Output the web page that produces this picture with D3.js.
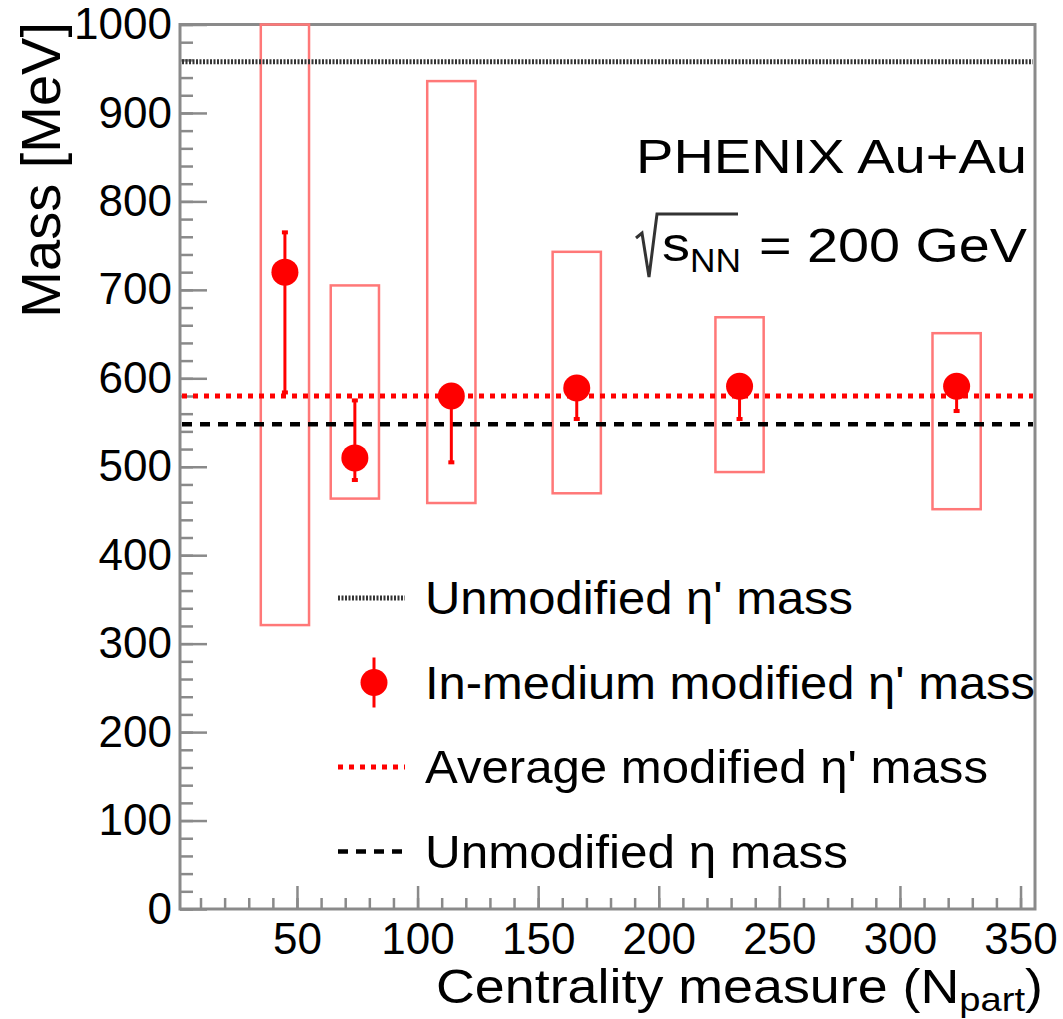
<!DOCTYPE html>
<html>
<head>
<meta charset="utf-8">
<script src="https://cdn.jsdelivr.net/npm/d3@7"></script>
<style>
body { margin: 0; background: #fff; }
text { font-family: "Liberation Sans", Arial, sans-serif; fill: #000; }
</style>
</head>
<body>
<svg id="chart" width="1063" height="1019"></svg>
<script>
/////////////
// Data
/////////////
const npart   = [45, 74, 114, 166, 233.5, 323.5];   // centrality (Npart)
const mass    = [720, 510, 580, 589, 591, 591];     // in-medium eta' mass [MeV]
const statHi  = [765, 575, 592, 600, 602, 600];
const statLo  = [584, 485, 505, 554, 554, 563];
const sysHi   = [1000, 705, 936, 743, 669, 651];
const sysLo   = [321, 464, 459, 470, 494, 452];
const boxHalf = 10;                                 // half width of syst. boxes in Npart

const etaPrimeMass = 958;
const avgMass = 580;
const etaMass = 548;

const yTicks = [0, 100, 200, 300, 400, 500, 600, 700, 800, 900, 1000];
const xTicks = [50, 100, 150, 200, 250, 300, 350];

const legendLabels = ["Unmodified \u03b7' mass", "In-medium modified \u03b7' mass",
                      "Average modified \u03b7' mass", "Unmodified \u03b7 mass"];

/////////////
// Setup
/////////////
const svg = d3.select('#chart');
const padL = 180, padR = 1035, padT = 24.5, padB = 909;

const x = d3.scaleLinear().domain([1.5, 356]).range([padL, padR]);
const y = d3.scaleLinear().domain([0, 1000]).range([padB, padT]);

const axisCol = '#8a8a8a';

// y axis minor + major
svg.append('g').attr('class', 'ax')
  .attr('transform', `translate(${padL},0)`)
  .call(d3.axisLeft(y).tickValues(d3.range(0, 1001, 20)).tickSize(-13).tickFormat(''));
svg.append('g').attr('class', 'ax ylab')
  .attr('transform', `translate(${padL},0)`)
  .call(d3.axisLeft(y).tickValues(yTicks).tickSize(-27).tickPadding(8).tickFormat(d3.format('d')));

// x axis minor + major
svg.append('g').attr('class', 'ax')
  .attr('transform', `translate(0,${padB})`)
  .call(d3.axisBottom(x).tickValues(d3.range(10, 351, 10)).tickSize(-11).tickFormat(''));
svg.append('g').attr('class', 'ax xlab')
  .attr('transform', `translate(0,${padB})`)
  .call(d3.axisBottom(x).tickValues(xTicks).tickSize(-23).tickPadding(14).tickFormat(d3.format('d')));

svg.selectAll('.ax .domain').remove();
svg.selectAll('.ax line').attr('stroke', axisCol).attr('stroke-width', 2.5);
svg.selectAll('.ax text').attr('font-size', 44).attr('fill', '#000')
  .attr('font-family', '"Liberation Sans", Arial, sans-serif');

// frame
svg.append('rect')
  .attr('x', padL).attr('y', padT)
  .attr('width', padR - padL).attr('height', padB - padT)
  .attr('fill', 'none').attr('stroke', axisCol).attr('stroke-width', 3);

// systematic boxes
svg.append('g').selectAll('rect')
  .data(npart)
  .enter().append('rect')
  .attr('x', (d) => x(d - boxHalf))
  .attr('width', (d) => x(d + boxHalf) - x(d - boxHalf))
  .attr('y', (d, i) => y(sysHi[i]))
  .attr('height', (d, i) => y(sysLo[i]) - y(sysHi[i]))
  .attr('fill', 'none').attr('stroke', '#ff7878').attr('stroke-width', 2.5);

// reference lines
const refLines = [
  {v: etaPrimeMass, col: '#333', w: 5, dash: '2,1.5'},
  {v: avgMass, col: '#ff0000', w: 5, dash: '5,6'},
  {v: etaMass, col: '#000', w: 4.5, dash: '10,8'}
];
svg.append('g').selectAll('line')
  .data(refLines)
  .enter().append('line')
  .attr('x1', padL + 2).attr('x2', padR - 2)
  .attr('y1', (d) => y(d.v)).attr('y2', (d) => y(d.v))
  .attr('stroke', (d) => d.col).attr('stroke-width', (d) => d.w)
  .attr('stroke-dasharray', (d) => d.dash);

// stat error bars
const pts = svg.append('g');
pts.selectAll('line.err')
  .data(npart)
  .enter().append('line').attr('class', 'err')
  .attr('x1', (d) => x(d)).attr('x2', (d) => x(d))
  .attr('y1', (d, i) => y(statHi[i])).attr('y2', (d, i) => y(statLo[i]))
  .attr('stroke', '#f00').attr('stroke-width', 3);
pts.selectAll('rect.cap')
  .data(npart.flatMap((d, i) => [[d, statHi[i]], [d, statLo[i]]]))
  .enter().append('rect').attr('class', 'cap')
  .attr('x', (d) => x(d[0]) - 3).attr('y', (d) => y(d[1]) - 2)
  .attr('width', 6).attr('height', 4).attr('fill', '#f00');
pts.selectAll('circle')
  .data(npart)
  .enter().append('circle')
  .attr('cx', (d) => x(d)).attr('cy', (d, i) => y(mass[i]))
  .attr('r', 13.5).attr('fill', '#f00');

/////////////
// Labels
/////////////
svg.append('text')
  .attr('transform', 'translate(60,22) rotate(-90)')
  .attr('text-anchor', 'end').attr('font-size', 56)
  .text('Mass [MeV]');

const xt = svg.append('text')
  .attr('x', 436).attr('y', 1003).attr('font-size', 48)
  .attr('textLength', 607).attr('lengthAdjust', 'spacingAndGlyphs');
xt.append('tspan').text('Centrality measure (N');
xt.append('tspan').attr('font-size', 34).attr('dy', 8).text('part');
xt.append('tspan').attr('dy', -8).text(')');

svg.append('text')
  .attr('x', 636).attr('y', 173).attr('font-size', 48)
  .attr('textLength', 391).attr('lengthAdjust', 'spacingAndGlyphs')
  .text('PHENIX Au+Au');

svg.append('path')
  .attr('d', 'M636,238 L642,233 L649,277 L657,214 L738,214')
  .attr('fill', 'none').attr('stroke', '#333').attr('stroke-width', 3);
svg.append('text').attr('x', 662).attr('y', 261).attr('font-size', 48)
  .attr('textLength', 28).attr('lengthAdjust', 'spacingAndGlyphs').text('s');
svg.append('text').attr('x', 690).attr('y', 272).attr('font-size', 34)
  .attr('textLength', 51).attr('lengthAdjust', 'spacingAndGlyphs').text('NN');
svg.append('text').attr('x', 759).attr('y', 262).attr('font-size', 48)
  .attr('textLength', 268).attr('lengthAdjust', 'spacingAndGlyphs').text('= 200 GeV');

/////////////
// Legend
/////////////
const legY = (i) => 598 + i * 84.5;
const legW = [428, 610, 563, 423];
const leg = svg.append('g');

leg.selectAll('text')
  .data(legendLabels)
  .enter().append('text')
  .attr('x', 425).attr('y', (d, i) => legY(i) + 16)
  .attr('font-size', 47)
  .attr('textLength', (d, i) => legW[i]).attr('lengthAdjust', 'spacingAndGlyphs')
  .text((d) => d);

[0, 2, 3].forEach(function(i, k) {
  const s = refLines[k];
  leg.append('line')
    .attr('x1', 338).attr('x2', 405)
    .attr('y1', legY(i)).attr('y2', legY(i))
    .attr('stroke', s.col).attr('stroke-width', s.w)
    .attr('stroke-dasharray', s.dash);
});
leg.append('line')
  .attr('x1', 374).attr('x2', 374)
  .attr('y1', legY(1) - 25).attr('y2', legY(1) + 25)
  .attr('stroke', '#f00').attr('stroke-width', 3);
leg.append('circle')
  .attr('cx', 374).attr('cy', legY(1)).attr('r', 13.5).attr('fill', '#f00');
</script>
</body>
</html>
